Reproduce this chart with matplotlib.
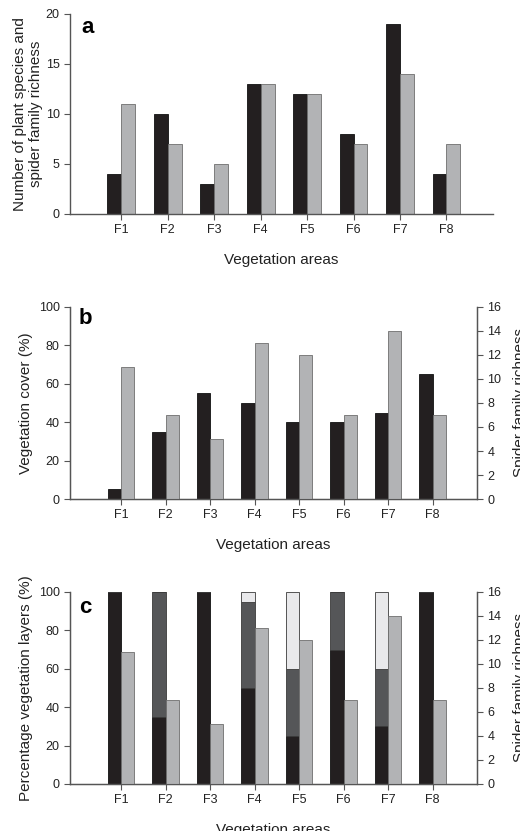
import numpy as np
import matplotlib.pyplot as plt

plt.rcParams['font.family'] = ['Liberation Sans', 'DejaVu Sans']

areas = ['F1', 'F2', 'F3', 'F4', 'F5', 'F6', 'F7', 'F8']
plant_species = [4, 10, 3, 13, 12, 8, 19, 4]
spider_families = [11, 7, 5, 13, 12, 7, 14, 7]
veg_cover = [5, 35, 55, 50, 40, 40, 45, 65]
layer_low = [100, 35, 100, 50, 25, 70, 30, 100]
layer_mid = [0, 65, 0, 45, 35, 30, 30, 0]
layer_high = [0, 0, 0, 5, 40, 0, 40, 0]

c_black = '#231f20'
c_grey = '#b2b3b5'
c_dark = '#555658'
c_light = '#e9e9eb'
c_axis = '#555555'
w = 0.3
x = np.arange(1, len(areas) + 1)

fig = plt.figure(figsize=(5.2, 8.31), dpi=100)


def style(ax, right=False):
    ax.spines['top'].set_visible(False)
    ax.spines['right'].set_visible(right)
    for s in ax.spines.values():
        s.set_color(c_axis)
        s.set_linewidth(1.0)
    ax.tick_params(colors=c_axis, labelcolor='#222222', labelsize=9, length=4, direction='out')
    ax.set_xticks(x)
    ax.set_xticklabels(areas)
    ax.set_xlabel('Vegetation areas', fontsize=11, color='#222222', labelpad=12)


# panel a
ax1 = fig.add_axes([0.1346, 0.7425, 0.8134, 0.2407])
ax1.bar(x - w / 2, plant_species, w, color=c_black, edgecolor='#111111', linewidth=0.6)
ax1.bar(x + w / 2, spider_families, w, color=c_grey, edgecolor='#6e6e6e', linewidth=0.6)
ax1.set_xlim(-0.1, 9.0)
ax1.set_ylim(0, 20)
ax1.set_yticks([0, 5, 10, 15, 20])
ax1.set_ylabel('Number of plant species and\nspider family richness', fontsize=11, color='#222222', labelpad=2)
style(ax1)
ax1.text(0.027, 0.985, 'a', transform=ax1.transAxes, fontsize=16, fontweight='bold', va='top')

# panel b
ax2 = fig.add_axes([0.1346, 0.3995, 0.7827, 0.2311])
ax2.bar(x - w / 2, veg_cover, w, color=c_black, edgecolor='#111111', linewidth=0.6)
ax2.set_xlim(-0.15, 9.0)
ax2.set_ylim(0, 100)
ax2.set_ylabel('Vegetation cover (%)', fontsize=11, color='#222222')
style(ax2, right=True)
ax2r = ax2.twinx()
ax2r.bar(x + w / 2, spider_families, w, color=c_grey, edgecolor='#6e6e6e', linewidth=0.6)
ax2r.set_ylim(0, 16)
ax2r.set_yticks(range(0, 17, 2))
ax2r.spines['top'].set_visible(False)
for s in ax2r.spines.values():
    s.set_color(c_axis)
ax2r.tick_params(colors=c_axis, labelcolor='#222222', labelsize=9, length=4)
ax2r.set_ylabel('Spider family richness', fontsize=11, color='#222222', labelpad=8)
ax2.text(0.022, 0.995, 'b', transform=ax2.transAxes, fontsize=16, fontweight='bold', va='top')

# panel c
ax3 = fig.add_axes([0.1346, 0.0566, 0.7827, 0.2311])
bottom_mid = np.array(layer_low)
bottom_high = bottom_mid + np.array(layer_mid)
ax3.bar(x - w / 2, layer_low, w, color=c_black, edgecolor='#111111', linewidth=0.6)
ax3.bar(x - w / 2, layer_mid, w, bottom=bottom_mid, color=c_dark, edgecolor='#3a3a3a', linewidth=0.6)
ax3.bar(x - w / 2, layer_high, w, bottom=bottom_high, color=c_light, edgecolor='#3a3a3a', linewidth=0.6)
ax3.set_xlim(-0.15, 9.0)
ax3.set_ylim(0, 100)
ax3.set_ylabel('Percentage vegetation layers (%)', fontsize=11, color='#222222')
style(ax3, right=True)
ax3r = ax3.twinx()
ax3r.bar(x + w / 2, spider_families, w, color=c_grey, edgecolor='#6e6e6e', linewidth=0.6)
ax3r.set_ylim(0, 16)
ax3r.set_yticks(range(0, 17, 2))
ax3r.spines['top'].set_visible(False)
for s in ax3r.spines.values():
    s.set_color(c_axis)
ax3r.tick_params(colors=c_axis, labelcolor='#222222', labelsize=9, length=4)
ax3r.set_ylabel('Spider family richness', fontsize=11, color='#222222', labelpad=8)
ax3.text(0.022, 0.975, 'c', transform=ax3.transAxes, fontsize=16, fontweight='bold', va='top')

fig.savefig('out.png', dpi=100)
